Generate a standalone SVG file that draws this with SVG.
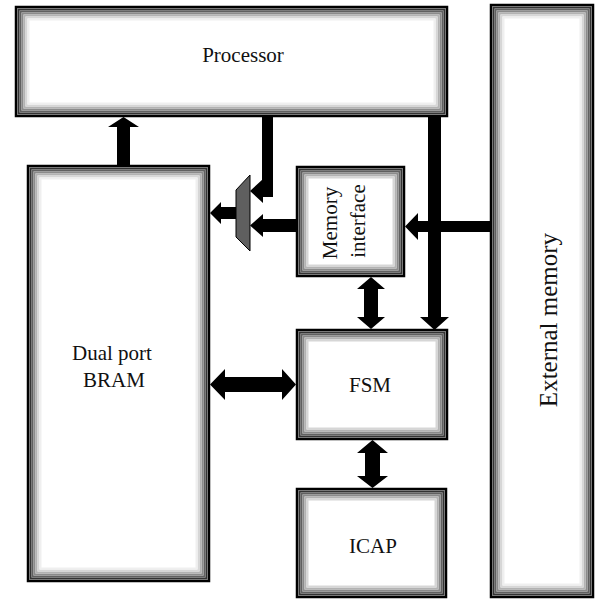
<svg xmlns="http://www.w3.org/2000/svg" width="595" height="600" viewBox="0 0 595 600">
<style>
.r0{fill:#fff;stroke:#000;stroke-width:2.5}
.r1{fill:none;stroke:#333;stroke-width:2}
.r2{fill:none;stroke:#606060;stroke-width:2}
.r3{fill:none;stroke:#8a8a8a;stroke-width:2}
.r4{fill:none;stroke:#b2b2b2;stroke-width:2}
.r5{fill:none;stroke:#d6d6d6;stroke-width:2}
.r6{fill:none;stroke:#efefef;stroke-width:2}
.t{font-family:"Liberation Serif","Times New Roman","DejaVu Serif",serif;font-size:21px;fill:#111;text-anchor:middle}
.a{fill:#000}
</style>
<rect width="595" height="600" fill="#fff"/>
<g id="processor">
<rect class="r0" x="16" y="7" width="431" height="109"/>
<rect class="r1" x="18.5" y="9.5" width="426" height="104"/>
<rect class="r2" x="20.5" y="11.5" width="422" height="100"/>
<rect class="r3" x="22.5" y="13.5" width="418" height="96"/>
<rect class="r4" x="24.5" y="15.5" width="414" height="92"/>
<rect class="r5" x="26.5" y="17.5" width="410" height="88"/>
<rect class="r6" x="28.5" y="19.5" width="406" height="84"/>
<text class="t" x="243" y="62" font-family="Liberation Serif, serif">Processor</text>
</g>
<g id="bram">
<rect class="r0" x="28" y="166" width="181" height="415"/>
<rect class="r1" x="30.5" y="168.5" width="176" height="410"/>
<rect class="r2" x="32.5" y="170.5" width="172" height="406"/>
<rect class="r3" x="34.5" y="172.5" width="168" height="402"/>
<rect class="r4" x="36.5" y="174.5" width="164" height="398"/>
<rect class="r5" x="38.5" y="176.5" width="160" height="394"/>
<rect class="r6" x="40.5" y="178.5" width="156" height="390"/>
<text class="t" x="112" y="360">Dual port</text>
<text class="t" x="114" y="387">BRAM</text>
</g>
<g id="memory-interface">
<rect class="r0" x="297" y="167" width="107" height="109"/>
<rect class="r1" x="299.5" y="169.5" width="102" height="104"/>
<rect class="r2" x="301.5" y="171.5" width="98" height="100"/>
<rect class="r3" x="303.5" y="173.5" width="94" height="96"/>
<rect class="r4" x="305.5" y="175.5" width="90" height="92"/>
<rect class="r5" x="307.5" y="177.5" width="86" height="88"/>
<text class="t" transform="translate(337,223) rotate(-90)">Memory</text>
<text class="t" transform="translate(365,221) rotate(-90)">interface</text>
</g>
<g id="fsm">
<rect class="r0" x="297" y="330" width="150" height="109"/>
<rect class="r1" x="299.5" y="332.5" width="145" height="104"/>
<rect class="r2" x="301.5" y="334.5" width="141" height="100"/>
<rect class="r3" x="303.5" y="336.5" width="137" height="96"/>
<rect class="r4" x="305.5" y="338.5" width="133" height="92"/>
<rect class="r5" x="307.5" y="340.5" width="129" height="88"/>
<text class="t" x="370" y="392">FSM</text>
</g>
<g id="icap">
<rect class="r0" x="297" y="489" width="149" height="108"/>
<rect class="r1" x="299.5" y="491.5" width="144" height="103"/>
<rect class="r2" x="301.5" y="493.5" width="140" height="99"/>
<rect class="r3" x="303.5" y="495.5" width="136" height="95"/>
<rect class="r4" x="305.5" y="497.5" width="132" height="91"/>
<rect class="r5" x="307.5" y="499.5" width="128" height="87"/>
<text class="t" x="373" y="553">ICAP</text>
</g>
<g id="external-memory">
<rect class="r0" x="491" y="5" width="102" height="592"/>
<rect class="r1" x="493.5" y="7.5" width="97" height="587"/>
<rect class="r2" x="495.5" y="9.5" width="93" height="583"/>
<rect class="r3" x="497.5" y="11.5" width="89" height="579"/>
<rect class="r4" x="499.5" y="13.5" width="85" height="575"/>
<rect class="r5" x="501.5" y="15.5" width="81" height="571"/>
<rect class="r6" x="503.5" y="17.5" width="77" height="567"/>
<text class="t" style="font-size:25px" transform="translate(557,320) rotate(-90)">External memory</text>
</g>
<g id="mux">
<polygon points="236,190 250,175 250,251 236,237" fill="#5f5f5f" stroke="#000" stroke-width="1"/>
</g>
<g id="connectors">
<polygon class="a" points="117,165 117,127 108,127 123.5,117 139,127 130,127 130,165"/>
<polygon class="a" points="262,117 273,117 273,197 263,197 263,203 250,191 263,179 263,185 262,185"/>
<polygon class="a" points="296,219 263,219 263,214 250,225.5 263,237 263,232 296,232"/>
<polygon class="a" points="236,207 221,207 221,202 210,213 221,224 221,219 236,219"/>
<polygon class="a" points="490,221 418,221 418,213 405,226.5 418,240 418,232 490,232"/>
<polygon class="a" points="428,117 441,117 441,317 449,317 434.5,330 420,317 428,317"/>
<polygon class="a" points="364,289 357,289 371,277 385,289 378,289 378,317 385,317 371,329 357,317 364,317"/>
<polygon class="a" points="225,377 225,369 210,384.5 225,400 225,392 282,392 282,400 296,384.5 282,369 282,377"/>
<polygon class="a" points="365,453 357,453 372.5,440 388,453 380,453 380,476 388,476 372.5,488 357,476 365,476"/>
</g>
</svg>
